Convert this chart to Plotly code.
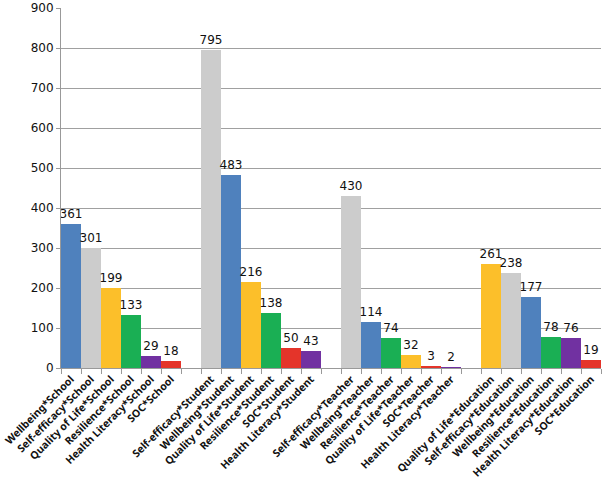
import plotly.graph_objects as go

categories = [
    "Wellbeing*School", "Self-efficacy*School", "Quality of Life*School", "Resilience*School",
    "Health Literacy*School", "SOC*School", " ",
    "Self-efficacy*Student", "Wellbeing*Student", "Quality of Life*Student", "Resilience*Student",
    "SOC*Student", "Health Literacy*Student", "  ",
    "Self-efficacy*Teacher", "Wellbeing*Teacher", "Resilience*Teacher", "Quality of Life*Teacher",
    "SOC*Teacher", "Health Literacy*Teacher", "   ",
    "Quality of Life*Education", "Self-efficacy*Education", "Wellbeing*Education",
    "Resilience*Education", "Health Literacy*Education", "SOC*Education",
]
values = [
    361, 301, 199, 133, 29, 18, None,
    795, 483, 216, 138, 50, 43, None,
    430, 114, 74, 32, 3, 2, None,
    261, 238, 177, 78, 76, 19,
]

palette = {
    "Wellbeing": "#4f81bd",
    "Self-efficacy": "#cccccc",
    "Quality of Life": "#fcbf2a",
    "Resilience": "#1aaf54",
    "Health Literacy": "#7131a1",
    "SOC": "#e4342a",
}

colors = []
texts = []
for c, v in zip(categories, values):
    key = c.split("*")[0] if "*" in c else None
    colors.append(palette.get(key, "rgba(0,0,0,0)"))
    texts.append("" if v is None else str(v))

fig = go.Figure(go.Bar(
    x=categories, y=values, marker=dict(color=colors, line=dict(width=0)),
    text=texts, textposition="outside", cliponaxis=False, constraintext="none",
    textfont=dict(family="DejaVu Sans", size=12, color="#111111"),
    hoverinfo="skip",
))

fig.update_layout(
    width=602, height=487,
    margin=dict(l=61, r=1, t=8, b=119, autoexpand=False),
    plot_bgcolor="white", paper_bgcolor="white",
    bargap=0, showlegend=False,
    font=dict(family="DejaVu Sans", color="#111111"),
)
fig.update_xaxes(
    type="category", categoryorder="array", categoryarray=categories,
    tickson="boundaries", ticks="outside", ticklen=5, tickcolor="#999999",
    showgrid=False, showline=True, linecolor="#999999", linewidth=1, automargin=False,
    tickangle=-45, tickfont=dict(family="Noto Sans", size=10.5, weight="bold", color="#111111"),
)
fig.update_yaxes(
    range=[0, 900], dtick=100, ticks="outside", ticklen=4, tickcolor="#999999",
    showgrid=True, gridcolor="#a0a0a0", gridwidth=1, automargin=False,
    showline=True, linecolor="#999999", linewidth=1,
    tickfont=dict(family="DejaVu Sans", size=12, color="#111111"), zeroline=False,
)

fig.write_html(
    "out.html",
    config={"displayModeBar": False},
    post_script="document.body.style.margin='0';document.body.style.padding='0';",
)
